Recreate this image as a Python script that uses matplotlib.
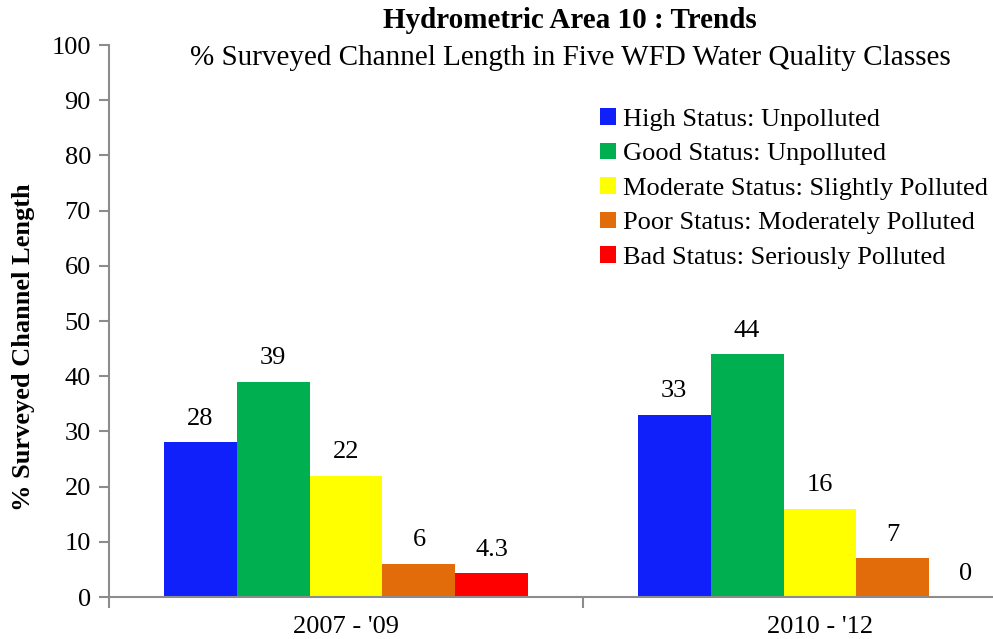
import numpy as np
import matplotlib.pyplot as plt

periods = ["2007 - '09", "2010 - '12"]
classes = ["High Status: Unpolluted", "Good Status: Unpolluted",
           "Moderate Status: Slightly Polluted", "Poor Status: Moderately Polluted",
           "Bad Status: Seriously Polluted"]
high = [28, 33]
good = [39, 44]
moderate = [22, 16]
poor = [6, 7]
bad = [4.3, 0]
colors = ['#1020FA', '#00B050', '#FFFF00', '#E36C0A', '#FF0000']

plt.rcParams['font.family'] = ['Liberation Serif', 'DejaVu Serif']

fig = plt.figure(figsize=(9.93, 6.39), dpi=100)
ax = fig.add_axes([109 / 993, 1 - 597 / 639, 948 / 993, 552 / 639])

x = np.arange(len(periods))
n = len(classes)
width = 0.77 / n
series = [high, good, moderate, poor, bad]
for i, (vals, lab, col) in enumerate(zip(series, classes, colors)):
    pos = x - 0.385 + width / 2 + i * width
    bars = ax.bar(pos, vals, width=width, color=col, label=lab, edgecolor='none')
    for b, v in zip(bars, vals):
        ax.annotate('%g' % v, (b.get_x() + b.get_width() / 2, v),
                    xytext=(0, 9), textcoords='offset points',
                    ha='center', va='bottom', fontsize=19)

ax.set_xlim(-0.5, 1.5)
ax.set_ylim(0, 100)
ax.set_yticks(range(0, 101, 10))
ax.set_xticks(x)
ax.set_xticklabels(periods)
ax.set_xticks([-0.5, 0.5, 1.5], minor=True)
ax.tick_params(axis='x', which='major', length=0, labelsize=19, pad=14)
ax.tick_params(axis='x', which='minor', length=8, width=1.5, color='#8c8c8c')
ax.tick_params(axis='y', length=7, width=1.5, color='#8c8c8c', labelsize=19, pad=6)
for s in ['top', 'right']:
    ax.spines[s].set_visible(False)
for s in ['left', 'bottom']:
    ax.spines[s].set_color('#8c8c8c')
    ax.spines[s].set_linewidth(1.5)

fig.text(0.574, 1 - 20 / 639, 'Hydrometric Area 10 : Trends', ha='center', va='center',
         fontsize=21, fontweight='bold')
fig.text(0.574, 1 - 58 / 639, '% Surveyed Channel Length in Five WFD Water Quality Classes',
         ha='center', va='center', fontsize=21)
fig.text(0.024, 1 - 347 / 639, '% Surveyed Channel Length', rotation=90, ha='center',
         va='center', fontsize=19, fontweight='bold')

leg = ax.legend(loc='upper left', bbox_to_anchor=(0.507, 0.905), frameon=False, fontsize=19,
                handlelength=0.6, handleheight=0.6, handletextpad=0.25, labelspacing=0.45,
                borderaxespad=0)

fig.savefig('out.png', dpi=100)
